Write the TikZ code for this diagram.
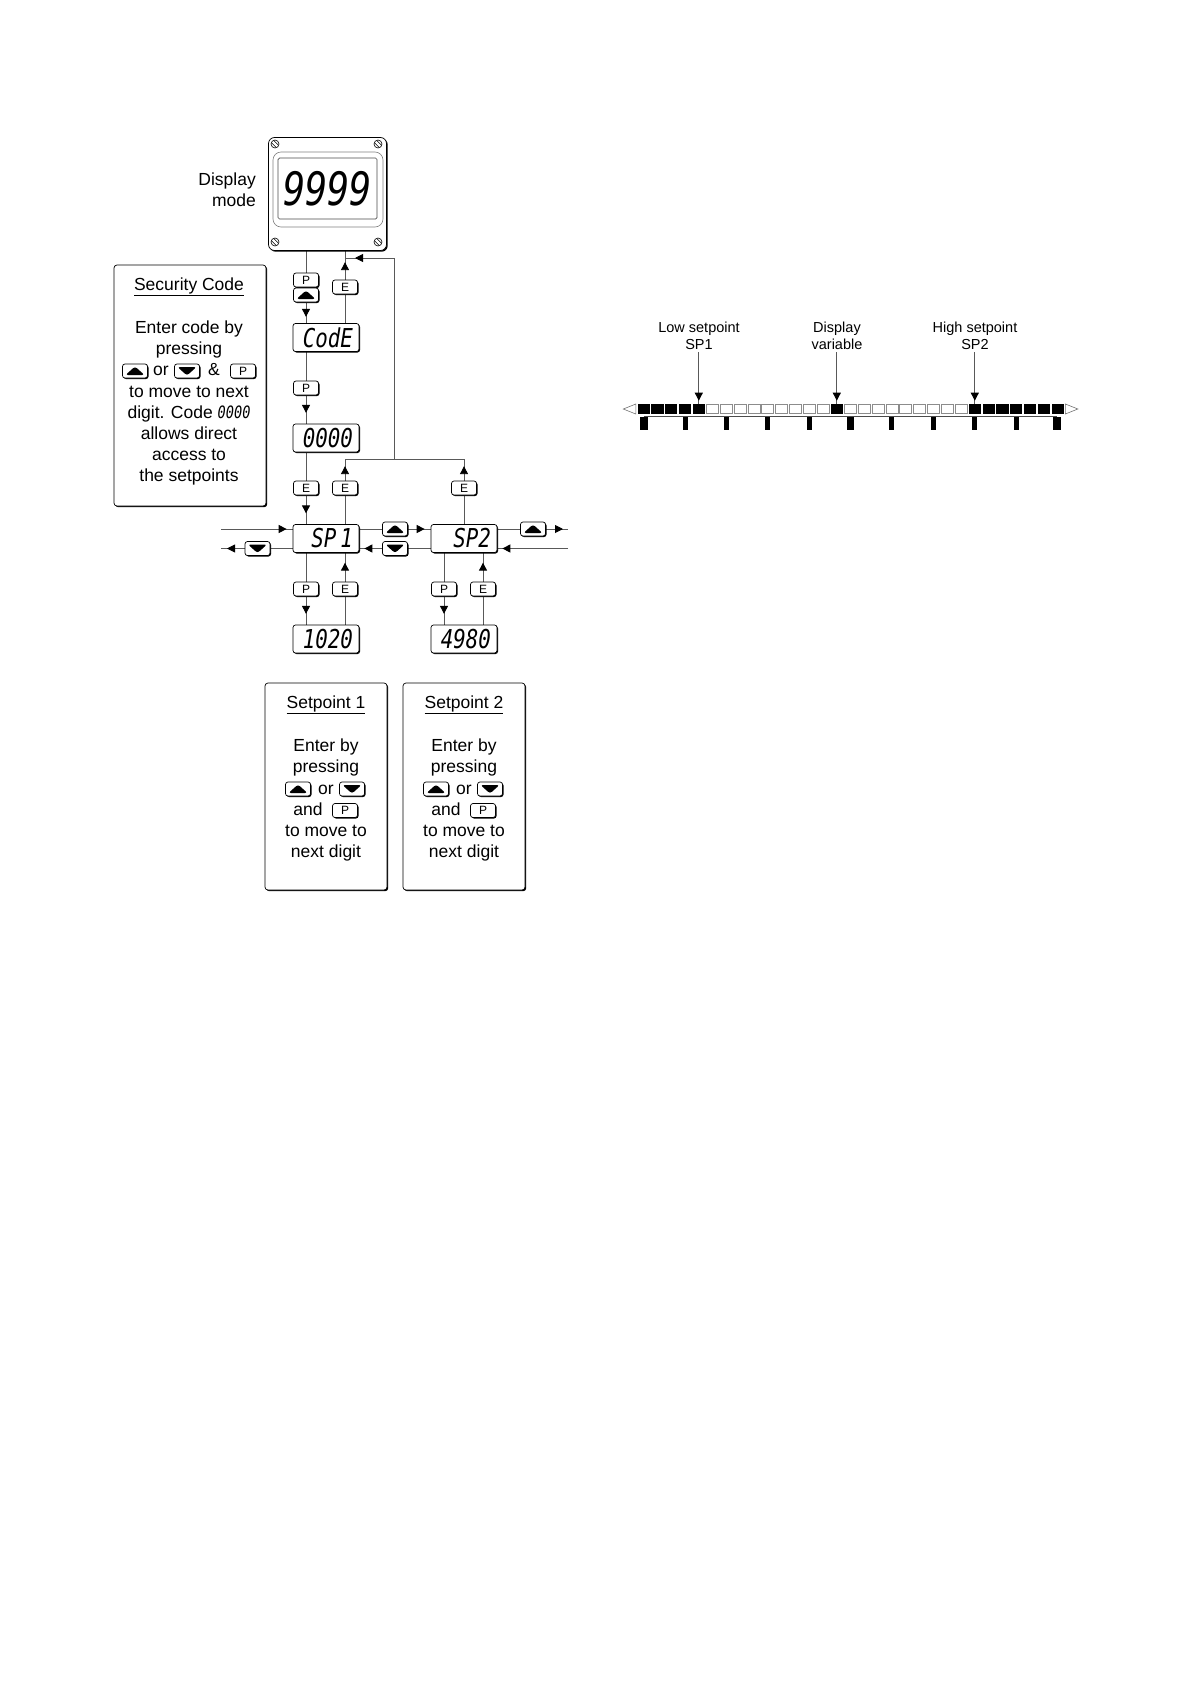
\documentclass[tikz,border=0pt]{standalone}
\usepackage{fontspec}
\setmainfont{Liberation Sans}
\newfontfamily\segfont[FakeStretch=0.8]{DejaVu Sans Mono}
\usetikzlibrary{positioning,calc,shapes,shadows,backgrounds,arrows.meta}
\usetikzlibrary{decorations.markings}
\newcommand{\segbig}{\segfont\itshape\fontsize{46}{46}\selectfont}
\newcommand{\segmid}{\segfont\itshape\fontsize{26}{26}\selectfont}
\newcommand{\segsmall}{\segfont\itshape\fontsize{17}{17}\selectfont}

\tikzset{
  >={Triangle[length=8pt,width=8pt,color=black]},
  link/.style={draw=black!65,line width=0.9pt},
  arrowat/.style={postaction=decorate,decoration={markings,mark=at position #1 with {\arrow{>}}}},
  keybox/.style={draw,fill=white,rounded corners=2.5pt,line width=0.7pt,inner sep=0pt,
    minimum width=25pt,minimum height=14pt,font=\fontsize{12}{12}\selectfont,
    drop shadow={shadow xshift=1pt,shadow yshift=-1pt,fill=black,opacity=1}},
  upkey/.style={keybox,path picture={\fill[black] ($(path picture bounding box.center)+(-9.5,4)$) -- ++(19,0) -- ++(-9.5,-8.5) -- cycle;}},
  downkey/.style={keybox,path picture={\fill[black] ($(path picture bounding box.center)+(-9.5,-4)$) -- ++(19,0) -- ++(-9.5,8.5) -- cycle;}},
  dispbox/.style={draw,fill=white,rounded corners=2.5pt,line width=0.7pt,inner xsep=6pt,inner ysep=0pt,
    text width=54pt,align=right,minimum height=28pt,
    drop shadow={shadow xshift=1pt,shadow yshift=-1pt,fill=black,opacity=1}},
  notebox/.style={draw,fill=white,rounded corners=3pt,line width=0.7pt,inner sep=0pt,
    drop shadow={shadow xshift=1.2pt,shadow yshift=-1.2pt,fill=black,opacity=1}},
  notetext/.style={anchor=base,inner sep=0pt,font=\fontsize{17.5}{21}\selectfont},
  barlabel/.style={align=center,inner sep=0pt,font=\fontsize{14.5}{17.5}\selectfont},
  screw/.style={circle,draw,fill=white,minimum size=8pt,inner sep=0pt,line width=0.6pt,
    path picture={\draw[line width=0.5pt] ($(path picture bounding box.center)+(-3.5,-1.2)$) -- ++(5,5)
      ($(path picture bounding box.center)+(-1.2,-3.5)$) -- ++(5,5);}},
  celloff/.style={draw=black!45,fill=white,line width=0.7pt,minimum width=12pt,minimum height=9.5pt,inner sep=0pt},
  cellon/.style={fill=black,minimum width=12.2pt,minimum height=10.2pt,inner sep=0pt},
  barfoot/.style={fill=black,minimum height=13pt,inner sep=0pt,anchor=north}
}

\begin{document}
\begin{tikzpicture}[x=1pt,y=-1pt]
\useasboundingbox (0,0) rectangle (1190,1684);

% front panel
\node[notebox,rounded corners=6pt,minimum width=118pt,minimum height=113pt] (panel) at (327.5,194) {};
\node[draw=black!50,rounded corners=8pt,line width=0.6pt,minimum width=110pt,minimum height=75pt,inner sep=0pt] (bezel) at (328,189.5) {};
\node[draw=black!70,rounded corners=1.5pt,line width=0.7pt,minimum width=99pt,minimum height=61pt,inner sep=0pt] (lcd) at (327.5,188.5) {};
\node[inner sep=0pt] (lcdtext) at (lcd.center) {\segbig 9999};
\node[screw] (screwa) at (275,144) {};
\node[screw] (screwb) at (378,144) {};
\node[screw] (screwc) at (275,242) {};
\node[screw] (screwd) at (378,242) {};
\node[notetext,anchor=base east] (dispa) at (256,185.5) {Display};
\node[notetext,anchor=base east] (dispb) at (256,206.5) {mode};

% displays
\node[dispbox] (code)  at (326,337.5) {\segmid CodE};
\node[dispbox] (zeros) at (326,438) {\segmid 0000};
\node[dispbox] (spa)   at (326,538.5) {\segmid\spaceskip=4pt SP 1};
\node[dispbox] (spb)   at (464,538.5) {\segmid SP2};
\node[dispbox] (vala)  at (326,639) {\segmid 1020};
\node[dispbox] (valb)  at (464,639) {\segmid 4980};

% keys
\node[keybox]  (pa)   at (306,280) {P};
\node[upkey]   (upa)  at (306,295) {};
\node[keybox]  (ea)   at (345,287) {E};
\node[keybox]  (pb)   at (306,388) {P};
\node[keybox]  (eb)   at (306,488) {E};
\node[keybox]  (ec)   at (345,488) {E};
\node[keybox]  (ed)   at (464,488) {E};
\node[downkey] (dnb)  at (257.5,548.5) {};
\node[upkey]   (upb)  at (395,529) {};
\node[downkey] (dnc)  at (395,548.5) {};
\node[upkey]   (upc)  at (533,529) {};
\node[keybox]  (pc)   at (306,589) {P};
\node[keybox]  (ee)   at (345,589) {E};
\node[keybox]  (pd)   at (444,589) {P};
\node[keybox]  (ef)   at (483,589) {E};

\coordinate (loopin)  at (394.5,459);
\coordinate (looptop) at (345,258);
\coordinate (joinleft)  at (345,459);
\coordinate (joinright) at (464,459);
\coordinate (infromleft)  at (221,529);
\coordinate (outtoleft)   at (221,548.5);
\coordinate (outtoright)  at (568,529);
\coordinate (infromright) at (568,548.5);

% connectors
\begin{scope}[on background layer]
\draw[link,arrowat=66pt] (pa |- panel.south) -- (pa |- code.north);
\draw[link,arrowat=61pt] (ea |- code.north) -- (ea |- panel.south);
\draw[link,arrowat=61pt] (pb |- code.south) -- (pb |- zeros.north);
\draw[link,arrowat=61pt] (eb |- zeros.south) -- (eb |- spa.north);
\draw[link,arrowat=58pt] (ec |- spa.north) -- (joinleft);
\draw[link,arrowat=58pt] (ed |- spb.north) -- (joinright);
\draw[link] (joinleft) -- (joinright);
\draw[link,arrowat=-10pt] (loopin) |- (looptop);
\draw[link,arrowat=61pt] (pc |- spa.south) -- (pc |- vala.north);
\draw[link,arrowat=62pt] (ee |- vala.north) -- (ee |- spa.south);
\draw[link,arrowat=61pt] (pd |- spb.south) -- (pd |- valb.north);
\draw[link,arrowat=62pt] (ef |- valb.north) -- (ef |- spb.south);
\draw[link,arrowat=-6pt] (infromleft) -- (spa.west |- infromleft);
\draw[link,arrowat=-6pt] (spa.west |- outtoleft) -- (outtoleft);
\draw[link,arrowat=-6pt] (spa.east |- upb) -- (spb.west |- upb);
\draw[link,arrowat=-5pt] (spb.west |- dnc) -- (spa.east |- dnc);
\draw[link,arrowat=-5pt] (spb.east |- outtoright) -- (outtoright);
\draw[link,arrowat=-5pt] (infromright) -- (spb.east |- infromright);
\end{scope}

% security code box
\node[notebox,minimum width=152pt,minimum height=241pt] (secbox) at (190,385.5) {};
\node[notetext] (sectitle) at (189,290) {\underline{Security Code}};
\foreach \yy/\txt in {333/Enter code by,354/pressing,397/to move to next,439/allows direct,460/access to,481/the setpoints}
  \node[notetext] (sec\yy) at (189,\yy) {\txt};
\node[notetext] (secdigit) at (189,418) {digit. Code {\segsmall 0000}};
\node[upkey]   (secup)   at (135,371) {};
\node[notetext] (secor)  at (161,375) {or};
\node[downkey] (secdn)   at (187,371) {};
\node[notetext] (secand) at (214,375) {\&};
\node[keybox]  (secp)    at (243,371) {P};

% setpoint boxes
\foreach \n/\cx in {1/326,2/464}{
  \node[notebox,minimum width=122pt,minimum height=207pt] (setbox\n) at (\cx,786.5) {};
  \node[notetext] (settitle\n) at (\cx,708) {\underline{Setpoint \n}};
  \node[notetext] (setenter\n) at (\cx,751) {Enter by};
  \node[notetext] (setpress\n) at (\cx,772.5) {pressing};
  \node[upkey]    (setup\n)    at (\cx-28,789) {};
  \node[notetext] (setor\n)    at (\cx,794) {or};
  \node[downkey]  (setdn\n)    at (\cx+26,789) {};
  \node[notetext] (setand\n)   at (\cx-18,815) {and};
  \node[keybox]   (setp\n)     at (\cx+19,810.5) {P};
  \node[notetext] (setmove\n)  at (\cx,836.5) {to move to};
  \node[notetext] (setnext\n)  at (\cx,857.5) {next digit};
}

% bargraph
\foreach \i in {5,6,7,8,9,10,11,12,13,15,16,17,18,19,20,21,22,23}
  \node[celloff] (cell\i) at ({643.6+13.8*\i},409) {};
\foreach \i in {0,1,2,3,4,14,24,25,26,27,28,29,30}
  \node[cellon] (cell\i) at ({643.6+13.8*\i},409) {};
\foreach \k/\w in {0/8,1/5,2/5,3/5,4/5,5/7,6/5,7/5,8/5,9/5,10/8}
  \node[barfoot,minimum width=\w pt] (foot\k) at ({643.7+41.37*\k},416.5) {};
\draw[black!70,line width=0.6pt] (foot0.north) -- (foot10.north);
\draw[black!55,line width=0.6pt] ($(cell0.west)+(-1.5,-5)$) -- ++(-12.5,5) -- ++(12.5,5) -- cycle;
\draw[black!55,line width=0.6pt] ($(cell30.east)+(1.5,-5)$) -- ++(12.5,5) -- ++(-12.5,5) -- cycle;

\node[barlabel] (lowlabel)  at (699,336) {Low setpoint\\SP1};
\node[barlabel] (varlabel)  at (837,336) {Display\\variable};
\node[barlabel] (highlabel) at (975,336) {High setpoint\\SP2};
\draw[link,shorten <=2pt,arrowat=-3pt] (lowlabel.south -| cell4) -- (cell4.north);
\draw[link,shorten <=2pt,arrowat=-3pt] (varlabel.south -| cell14) -- (cell14.north);
\draw[link,shorten <=2pt,arrowat=-3pt] (highlabel.south -| cell24) -- (cell24.north);

\end{tikzpicture}
\end{document}
